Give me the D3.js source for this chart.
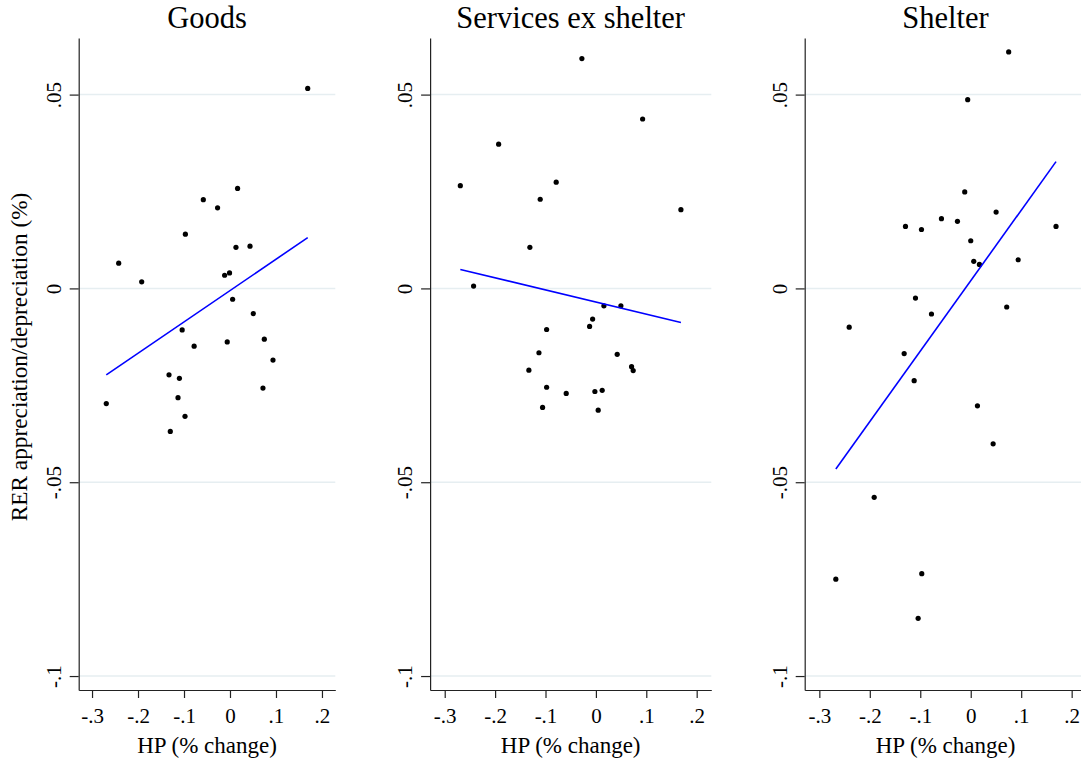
<!DOCTYPE html>
<html lang="en">
<head>
    <meta charset="UTF-8">
    <title>RER vs HP</title>
    <script src="https://cdn.jsdelivr.net/npm/d3@7"></script>
    <style>
        body { margin: 0; background: #fff; overflow: hidden; }
        text { font-family: "Times New Roman", "Liberation Serif", serif; fill: #000; }
    </style>
</head>
<body>
<script type="text/javascript">
    var width = 1081;
    var height = 764;

    var titles = ['Goods', 'Services ex shelter', 'Shelter'];
    var xTicks = [-0.3, -0.2, -0.1, 0, 0.1, 0.2];
    var xTickLabels = ['-.3', '-.2', '-.1', '0', '.1', '.2'];
    var yTicks = [0.05, 0, -0.05, -0.1];
    var yTickLabels = ['.05', '0', '-.05', '-.1'];

    // HP change / RER change, one pair of arrays per panel
    var goodsX = [0.169, 0.0165, -0.058, -0.027, -0.097, 0.013, 0.0435, -0.242, -0.192, -0.0117,
        -0.001, 0.0057, 0.0507, -0.104, -0.078, -0.006, 0.0746, 0.0935, -0.1326, -0.110,
        -0.269, -0.113, -0.0978, -0.1298, 0.0717];
    var goodsY = [0.0516, 0.0258, 0.0229, 0.0208, 0.0140, 0.0106, 0.0109, 0.0065, 0.0017, 0.0034,
        0.0040, -0.0028, -0.0065, -0.0107, -0.0149, -0.0138, -0.0131, -0.0185, -0.0223, -0.0232,
        -0.0297, -0.0282, -0.0330, -0.0369, -0.0257];

    var servX = [-0.0278, 0.0927, -0.193, -0.269, -0.0788, -0.1105, 0.1687, -0.131, -0.2427, 0.0159,
        0.0496, -0.0065, -0.0125, -0.0978, -0.113, 0.0423, -0.133, 0.0708, 0.074, -0.0978,
        -0.0589, -0.002, 0.0125, -0.1058, 0.0046];
    var servY = [0.0593, 0.0437, 0.0372, 0.0265, 0.0274, 0.0230, 0.0203, 0.0106, 0.0006, -0.0045,
        -0.0045, -0.0079, -0.0098, -0.0106, -0.0166, -0.0170, -0.0211, -0.0202, -0.0212, -0.0255,
        -0.0271, -0.0266, -0.0263, -0.0307, -0.0314];

    var shelX = [0.0752, -0.006, -0.0119, 0.0503, -0.058, -0.0263, -0.1293, -0.0976, 0.169, 0.0,
        0.006, 0.0172, 0.0939, -0.1095, -0.0778, 0.0713, -0.2408, -0.1319, -0.1121, 0.0133,
        0.0444, -0.1913, -0.2673, -0.097, -0.1042];
    var shelY = [0.0610, 0.0487, 0.0249, 0.0197, 0.0180, 0.0173, 0.0160, 0.0152, 0.0160, 0.0123,
        0.0070, 0.0062, 0.0074, -0.0025, -0.0066, -0.0048, -0.0100, -0.0168, -0.0238, -0.0303,
        -0.0401, -0.0539, -0.0750, -0.0736, -0.0851];

    // fitted lines, endpoints
    var fitGoodsX = [-0.269, 0.169], fitGoodsY = [-0.0223, 0.0131];
    var fitServX = [-0.269, 0.1687], fitServY = [0.0049, -0.0088];
    var fitShelX = [-0.2673, 0.169], fitShelY = [-0.0466, 0.0327];

    var panels = [
        {xs: goodsX, ys: goodsY, fx: fitGoodsX, fy: fitGoodsY, left: 78.7, right: 335.3},
        {xs: servX, ys: servY, fx: fitServX, fy: fitServY, left: 430.1, right: 711.3},
        {xs: shelX, ys: shelY, fx: fitShelX, fy: fitShelY, left: 804.7, right: 1086.3}
    ];

    var plotTop = 38, plotBottom = 690;
    var serif = '"Times New Roman", "Liberation Serif", serif';

    var svg = d3.select('body').append('svg')
            .attr('width', width)
            .attr('height', height);

    var y = d3.scaleLinear().domain([-0.1036, 0.0646]).range([plotBottom, plotTop]);

    panels.forEach(function (p, i) {
        var x = d3.scaleLinear().domain([-0.329, 0.229]).range([p.left, p.right]);
        var g = svg.append('g');

        // gridlines
        g.selectAll('line.grid')
                .data(yTicks)
                .enter()
                .append('line')
                .attr('class', 'grid')
                .attr('x1', p.left)
                .attr('x2', p.right)
                .attr('y1', function (d) { return y(d); })
                .attr('y2', function (d) { return y(d); })
                .attr('stroke', '#e6eef1')
                .attr('stroke-width', 1.5);

        // x axis
        var xAxis = d3.axisBottom(x)
                .tickValues(xTicks)
                .tickFormat(function (d, j) { return xTickLabels[j]; })
                .tickSize(8)
                .tickSizeOuter(0)
                .tickPadding(10);
        var gx = g.append('g')
                .attr('transform', 'translate(0,' + plotBottom + ')')
                .call(xAxis);
        gx.selectAll('text')
                .attr('font-size', '21px')
                .style('font-family', serif);

        // y axis
        var yAxis = d3.axisLeft(y)
                .tickValues(yTicks)
                .tickFormat(function (d, j) { return yTickLabels[j]; })
                .tickSize(9)
                .tickSizeOuter(0);
        var gy = g.append('g')
                .attr('transform', 'translate(' + p.left + ',0)')
                .call(yAxis);
        gy.selectAll('text')
                .attr('transform', 'rotate(-90)')
                .attr('x', 0)
                .attr('y', -18)
                .attr('dy', 0)
                .attr('text-anchor', 'middle')
                .attr('font-size', '21px')
                .style('font-family', serif);

        svg.selectAll('.domain, .tick line')
                .attr('stroke', '#222')
                .attr('stroke-width', 1.2);

        // scatter points
        g.selectAll('circle')
                .data(p.xs)
                .enter()
                .append('circle')
                .attr('cx', function (d) { return x(d); })
                .attr('cy', function (d, j) { return y(p.ys[j]); })
                .attr('r', 2.6)
                .attr('fill', '#000');

        // fitted line
        var line = d3.line()
                .x(function (d) { return x(d); })
                .y(function (d, j) { return y(p.fy[j]); });
        g.append('path')
                .attr('d', line(p.fx))
                .attr('fill', 'none')
                .attr('stroke', '#0000ff')
                .attr('stroke-width', 1.6);

        // titles
        var cx = (p.left + p.right) / 2;
        g.append('text')
                .attr('x', cx)
                .attr('y', 28)
                .attr('text-anchor', 'middle')
                .attr('font-size', '30.5px')
                .text(titles[i]);
        g.append('text')
                .attr('x', cx)
                .attr('y', 753)
                .attr('text-anchor', 'middle')
                .attr('font-size', '23px')
                .text('HP (% change)');
    });

    svg.append('text')
            .attr('transform', 'translate(27,357) rotate(-90)')
            .attr('text-anchor', 'middle')
            .attr('font-size', '23.3px')
            .text('RER appreciation/depreciation (%)');
</script>
</body>
</html>
